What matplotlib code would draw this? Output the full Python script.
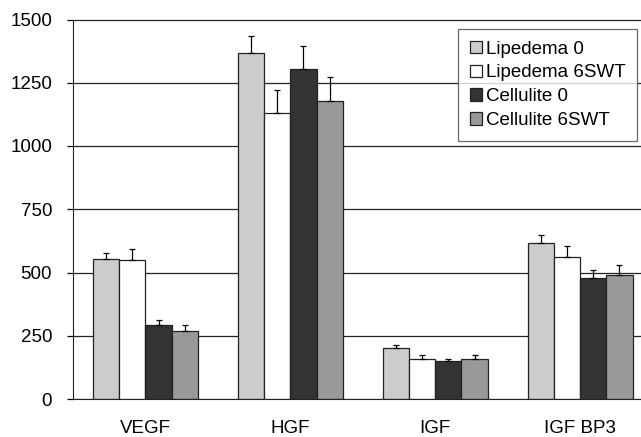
import numpy as np
import matplotlib.pyplot as plt

plt.rcParams["font.family"] = ["Liberation Sans", "DejaVu Sans"]

categories = ["VEGF", "HGF", "IGF", "IGF BP3"]
series_names = ["Lipedema 0", "Lipedema 6SWT", "Cellulite 0", "Cellulite 6SWT"]
lipedema_0 = [552, 1366, 203, 618]
lipedema_6swt = [548, 1129, 159, 560]
cellulite_0 = [291, 1303, 149, 477]
cellulite_6swt = [270, 1179, 159, 491]
lipedema_0_err = [26, 69, 9, 32]
lipedema_6swt_err = [44, 91, 13, 45]
cellulite_0_err = [20, 92, 9, 33]
cellulite_6swt_err = [21, 95, 13, 40]
yticks = [0, 250, 500, 750, 1000, 1250, 1500]

values = [lipedema_0, lipedema_6swt, cellulite_0, cellulite_6swt]
errors = [lipedema_0_err, lipedema_6swt_err, cellulite_0_err, cellulite_6swt_err]
colors = ["#cccccc", "#ffffff", "#333333", "#999999"]

fig = plt.figure(figsize=(6.41, 4.37), dpi=100)
ax = fig.add_axes([73 / 641, 1 - 399 / 437, (641 - 73) / 641, (399 - 19.5) / 437])

x = np.arange(len(categories))
width = 0.181
for i, (vals, errs, c, name) in enumerate(zip(values, errors, colors, series_names)):
    pos = x + (i - 1.5) * width
    ax.bar(pos, vals, width, color=c, edgecolor="#222222", linewidth=0.9,
           label=name, zorder=2)
    ax.errorbar(pos, vals, yerr=[np.zeros(len(errs)), errs], fmt="none",
                ecolor="black", elinewidth=0.9, capsize=2.5, capthick=0.9, zorder=3)

ax.set_xlim(-0.5, 3.42)
ax.set_ylim(0, 1500)
ax.set_yticks(yticks)
ax.set_xticks(x)
ax.set_xticklabels(categories)
ax.yaxis.grid(True, color="#222222", linewidth=0.9, zorder=0)
ax.set_axisbelow(True)

for s in ["top", "right"]:
    ax.spines[s].set_visible(False)
ax.spines["left"].set_color("#222222")
ax.spines["bottom"].set_color("#222222")
ax.tick_params(axis="y", length=4, width=0.9, pad=11, labelsize=13.5)
ax.tick_params(axis="x", length=0, pad=15, labelsize=13.5)

leg = ax.legend(loc="upper right", bbox_to_anchor=(637 / 641, 1 - 29 / 437),
                bbox_transform=fig.transFigure, fontsize=13.5, frameon=True,
                fancybox=False, handlelength=0.65, handleheight=0.65,
                handletextpad=0.2, labelspacing=0.36, borderpad=0.62,
                borderaxespad=0)
leg.get_frame().set_edgecolor("#444444")
leg.get_frame().set_linewidth(0.9)

fig.savefig("out.png", dpi=100)
